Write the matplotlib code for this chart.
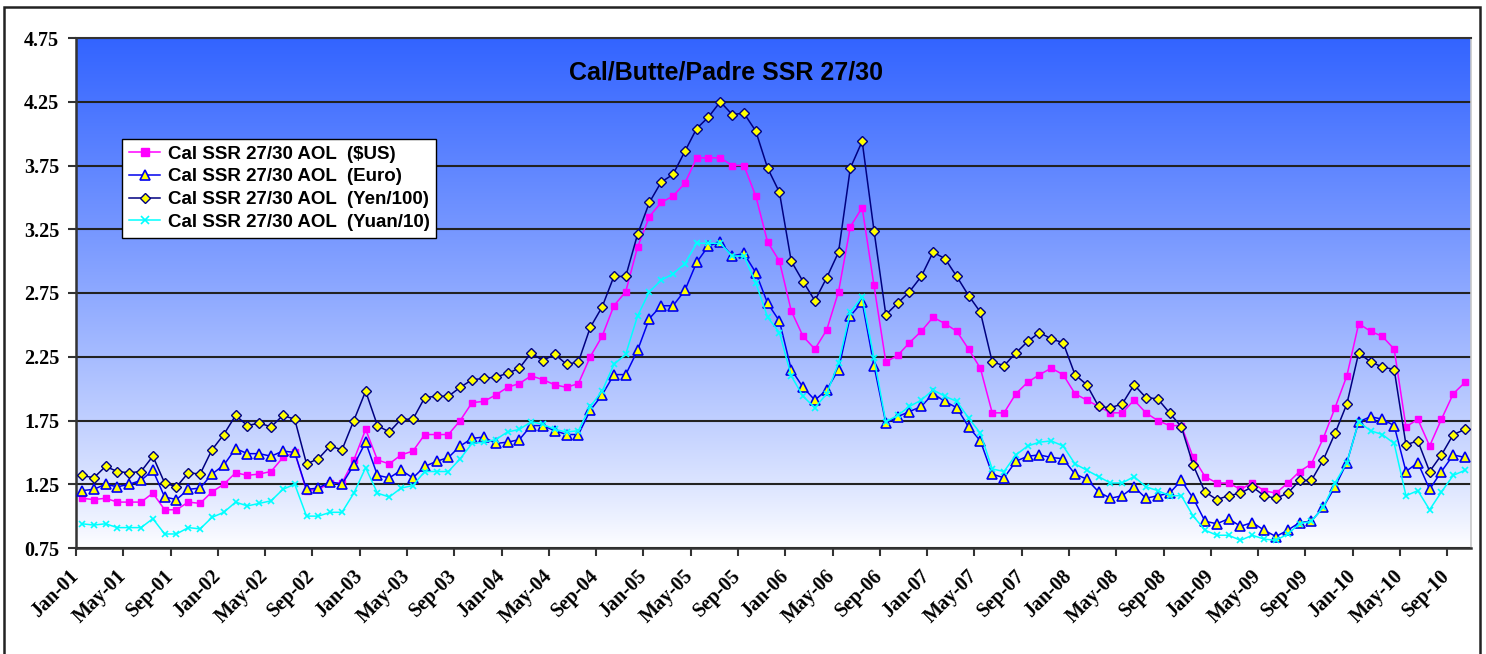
import numpy as np
import matplotlib
matplotlib.use("Agg")
import matplotlib.pyplot as plt
from matplotlib.patches import Rectangle

# monthly values Jan-01 .. Oct-10
usd = [1.14, 1.13, 1.14, 1.11, 1.11, 1.11, 1.18, 1.05, 1.05, 1.11, 1.10, 1.19, 1.25, 1.34, 1.32, 1.33, 1.35, 1.46, 1.50, 1.20,
       1.21, 1.26, 1.26, 1.44, 1.68, 1.44, 1.41, 1.48, 1.51, 1.64, 1.64, 1.64, 1.75, 1.89, 1.90, 1.95, 2.01, 2.04, 2.10, 2.07,
       2.03, 2.01, 2.04, 2.25, 2.41, 2.65, 2.76, 3.11, 3.35, 3.46, 3.51, 3.61, 3.81, 3.81, 3.81, 3.75, 3.75, 3.51, 3.15, 3.00,
       2.61, 2.41, 2.31, 2.46, 2.76, 3.27, 3.42, 2.81, 2.21, 2.26, 2.36, 2.45, 2.56, 2.51, 2.45, 2.31, 2.16, 1.81, 1.81, 1.96,
       2.05, 2.11, 2.16, 2.11, 1.96, 1.91, 1.86, 1.81, 1.81, 1.91, 1.81, 1.75, 1.71, 1.71, 1.46, 1.31, 1.26, 1.26, 1.21, 1.26,
       1.20, 1.18, 1.26, 1.35, 1.41, 1.61, 1.85, 2.10, 2.51, 2.45, 2.41, 2.31, 1.70, 1.76, 1.55, 1.76, 1.96, 2.05]
euro = [1.20, 1.21, 1.25, 1.23, 1.25, 1.28, 1.36, 1.15, 1.13, 1.21, 1.22, 1.33, 1.40, 1.53, 1.49, 1.49, 1.47, 1.51, 1.50, 1.21,
        1.22, 1.27, 1.25, 1.40, 1.58, 1.32, 1.30, 1.36, 1.30, 1.39, 1.43, 1.46, 1.55, 1.61, 1.62, 1.57, 1.58, 1.60, 1.71, 1.71,
        1.67, 1.64, 1.64, 1.83, 1.95, 2.11, 2.11, 2.30, 2.55, 2.65, 2.65, 2.77, 2.99, 3.12, 3.15, 3.04, 3.06, 2.91, 2.67, 2.53,
        2.15, 2.01, 1.91, 1.99, 2.15, 2.57, 2.68, 2.18, 1.73, 1.78, 1.82, 1.86, 1.96, 1.90, 1.85, 1.70, 1.59, 1.33, 1.30, 1.43,
        1.47, 1.48, 1.46, 1.45, 1.33, 1.29, 1.19, 1.14, 1.16, 1.23, 1.14, 1.16, 1.18, 1.28, 1.14, 0.96, 0.94, 0.98, 0.92, 0.95,
        0.89, 0.84, 0.89, 0.95, 0.96, 1.07, 1.23, 1.42, 1.74, 1.78, 1.76, 1.71, 1.35, 1.42, 1.21, 1.35, 1.48, 1.46]
yen = [1.32, 1.30, 1.39, 1.35, 1.34, 1.35, 1.47, 1.26, 1.23, 1.34, 1.33, 1.52, 1.64, 1.79, 1.71, 1.73, 1.70, 1.79, 1.76, 1.41,
       1.45, 1.55, 1.52, 1.75, 1.98, 1.71, 1.66, 1.76, 1.76, 1.93, 1.94, 1.94, 2.01, 2.07, 2.08, 2.09, 2.12, 2.16, 2.28, 2.22,
       2.27, 2.19, 2.21, 2.48, 2.64, 2.88, 2.88, 3.21, 3.46, 3.62, 3.68, 3.86, 4.04, 4.13, 4.25, 4.15, 4.16, 4.02, 3.73, 3.54,
       3.00, 2.84, 2.69, 2.87, 3.07, 3.73, 3.94, 3.24, 2.58, 2.67, 2.76, 2.88, 3.07, 3.02, 2.88, 2.73, 2.60, 2.21, 2.18, 2.28,
       2.37, 2.44, 2.39, 2.36, 2.11, 2.03, 1.86, 1.85, 1.88, 2.03, 1.93, 1.92, 1.81, 1.70, 1.40, 1.19, 1.13, 1.16, 1.18, 1.23,
       1.16, 1.14, 1.18, 1.28, 1.28, 1.44, 1.65, 1.88, 2.28, 2.21, 2.17, 2.15, 1.56, 1.59, 1.35, 1.48, 1.64, 1.68]
yuan = [0.94, 0.93, 0.94, 0.91, 0.91, 0.91, 0.98, 0.86, 0.86, 0.91, 0.90, 0.99, 1.03, 1.11, 1.08, 1.10, 1.12, 1.21, 1.25, 1.00,
        1.00, 1.03, 1.03, 1.18, 1.38, 1.18, 1.15, 1.22, 1.24, 1.35, 1.35, 1.35, 1.45, 1.57, 1.58, 1.60, 1.66, 1.68, 1.74, 1.72,
        1.68, 1.66, 1.67, 1.86, 1.98, 2.19, 2.27, 2.57, 2.76, 2.85, 2.90, 2.98, 3.14, 3.14, 3.14, 3.04, 3.04, 2.83, 2.56, 2.44,
        2.10, 1.94, 1.85, 1.96, 2.20, 2.60, 2.72, 2.24, 1.74, 1.79, 1.86, 1.91, 1.99, 1.94, 1.90, 1.77, 1.65, 1.37, 1.35, 1.48,
        1.55, 1.58, 1.59, 1.55, 1.41, 1.36, 1.31, 1.26, 1.26, 1.31, 1.23, 1.20, 1.16, 1.16, 1.00, 0.89, 0.85, 0.85, 0.81, 0.85,
        0.82, 0.81, 0.86, 0.94, 0.96, 1.07, 1.26, 1.42, 1.74, 1.67, 1.64, 1.57, 1.16, 1.20, 1.05, 1.19, 1.32, 1.36]

tick_labels = ['Jan-01', 'May-01', 'Sep-01', 'Jan-02', 'May-02', 'Sep-02', 'Jan-03', 'May-03', 'Sep-03',
               'Jan-04', 'May-04', 'Sep-04', 'Jan-05', 'May-05', 'Sep-05', 'Jan-06', 'May-06', 'Sep-06',
               'Jan-07', 'May-07', 'Sep-07', 'Jan-08', 'May-08', 'Sep-08', 'Jan-09', 'May-09', 'Sep-09',
               'Jan-10', 'May-10', 'Sep-10']
y_ticks = [0.75, 1.25, 1.75, 2.25, 2.75, 3.25, 3.75, 4.25, 4.75]

W, H = 1486, 654
fig = plt.figure(figsize=(W / 100, H / 100), dpi=100)
ax = fig.add_axes([76 / W, 1 - 548 / H, (1471 - 76) / W, (548 - 38) / H])

n = len(usd)
x = np.arange(n)
ax.set_xlim(-0.5, n - 0.5)
ax.set_ylim(0.75, 4.75)

# blue -> white gradient background
t = np.linspace(0, 1, 256)[:, None] ** 0.85
top = np.array([51, 100, 255]) / 255.0
grad = (1 - t)[:, :, None] * np.ones(3) + t[:, :, None] * top
ax.imshow(grad, extent=[-0.5, n - 0.5, 0.75, 4.75], aspect='auto', origin='lower', zorder=0)

ax.set_yticks(y_ticks)
ax.yaxis.grid(True, color='#222222', lw=1.5, zorder=1)
ax.set_axisbelow(True)

lw = 1.1
ax.plot(x, usd, color='#ff00ff', lw=lw, marker='s', ms=5, mfc='#ff00ff', mec='#ff00ff',
        label='Cal SSR 27/30 AOL  ($US)', zorder=3)
ax.plot(x, euro, color='#0000ee', lw=lw, marker='^', ms=6.5, mfc='#ffff00', mec='#0000ee', mew=1.2,
        label='Cal SSR 27/30 AOL  (Euro)', zorder=3)
ax.plot(x, yen, color='#000080', lw=lw, marker='D', ms=5, mfc='#ffff00', mec='#000080', mew=1.0,
        label='Cal SSR 27/30 AOL  (Yen/100)', zorder=3)
ax.plot(x, yuan, color='#00ffff', lw=lw, marker='x', ms=5, mec='#00ffff', mew=1.2,
        label='Cal SSR 27/30 AOL  (Yuan/10)', zorder=3)

tick_font = {'family': 'Liberation Serif', 'weight': 'bold', 'size': 14.5}
ax.set_xticks(np.arange(0, n, 4) - 0.5)
ax.set_xticklabels(tick_labels, rotation=45, ha='right', va='center', rotation_mode='anchor',
                   fontdict=tick_font)
ax.set_yticklabels(['%.2f' % v for v in y_ticks], fontdict=tick_font)
ax.tick_params(axis='x', length=6, width=1.5, direction='out', pad=12, color='#333333')
ax.tick_params(axis='y', length=6, width=1.5, direction='out', pad=6, color='#333333')

for s in ['left', 'bottom']:
    ax.spines[s].set_color('#333333')
    ax.spines[s].set_linewidth(1.8)
ax.spines['top'].set_color('#333333')
ax.spines['top'].set_linewidth(1.5)
ax.spines['right'].set_color('#c8c8c8')
ax.spines['right'].set_linewidth(1.2)

fig.text(726 / W, 1 - 72 / H, 'Cal/Butte/Padre SSR 27/30', ha='center', va='center',
         fontfamily='Liberation Sans', fontweight='bold', fontsize=18)

leg = ax.legend(loc='upper left', bbox_to_anchor=(122 / W, 1 - 139 / H), bbox_transform=fig.transFigure,
                prop={'family': 'Liberation Sans', 'weight': 'bold', 'size': 13.5},
                fancybox=False, framealpha=1, edgecolor='black', handlelength=1.7,
                labelspacing=0.3, borderpad=0.35, borderaxespad=0, handletextpad=0.4,
                markerscale=1.1)
leg.get_frame().set_linewidth(1.0)

# outer chart border
fig.add_artist(Rectangle((4 / W, -0.1), (1480 - 4) / W, 1.1 - 7 / H, transform=fig.transFigure,
                         fill=False, edgecolor='#222222', lw=1.8))

fig.savefig('out.png', dpi=100)
